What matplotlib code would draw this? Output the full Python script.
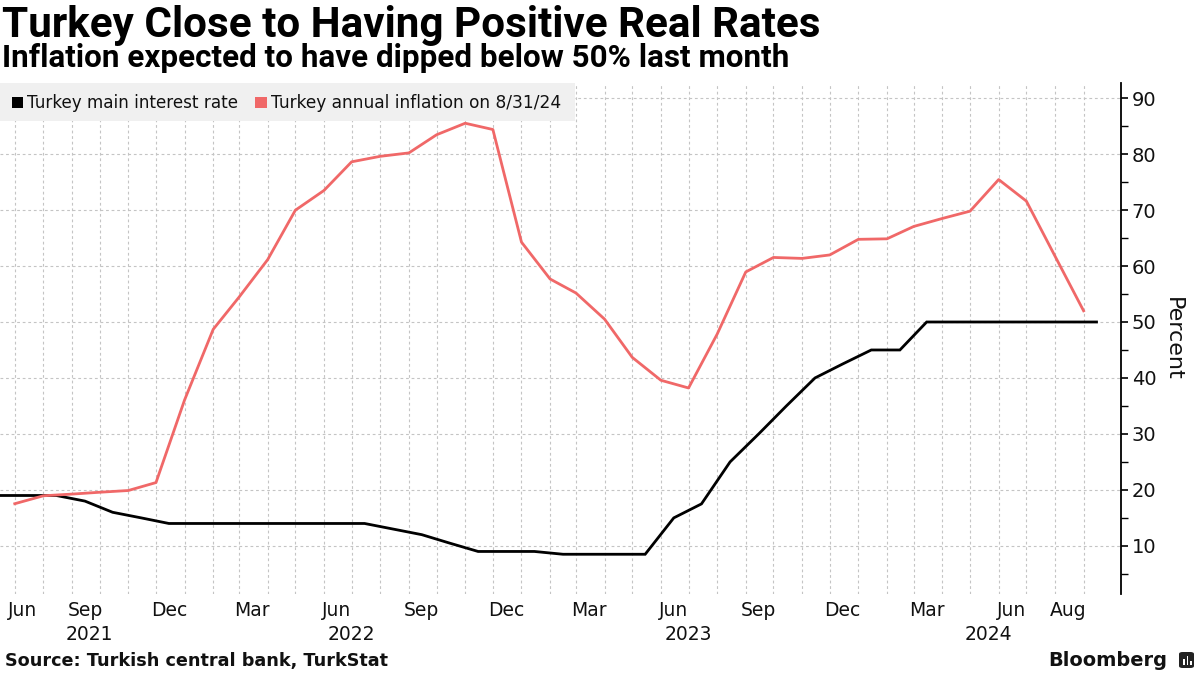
import numpy as np
import pandas as pd
import matplotlib
matplotlib.use("Agg")
import matplotlib.pyplot as plt
import matplotlib.dates as mdates
import matplotlib.font_manager as fm
import matplotlib.transforms as mtrans
from matplotlib.patches import Rectangle, FancyBboxPatch
from matplotlib.ticker import FixedLocator, MultipleLocator

# ---------------- data ----------------
infl_start, infl_end = "2021-06", "2024-08"
inflation = [17.53, 18.95, 19.25, 19.58, 19.89, 21.31, 36.08, 48.69, 54.44, 61.14,
             69.97, 73.50, 78.62, 79.60, 80.21, 83.45, 85.51, 84.39, 64.27, 57.68,
             55.18, 50.51, 43.68, 39.59, 38.21, 47.83, 58.94, 61.53, 61.36, 61.98,
             64.77, 64.86, 67.07, 68.50, 69.80, 75.45, 71.60, 61.78, 52.0]

rate_start, rate_end = "2021-06", "2024-09"
policy_rate = [19, 19, 19, 18, 16, 15, 14, 14, 14, 14, 14, 14, 14, 14, 13, 12, 10.5, 9, 9, 9,
               8.5, 8.5, 8.5, 8.5, 15, 17.5, 25, 30, 35, 40, 42.5, 45, 45, 50, 50, 50, 50, 50, 50, 50]

month_tick_months = ["2021-06", "2021-09", "2021-12", "2022-03", "2022-06", "2022-09", "2022-12",
                     "2023-03", "2023-06", "2023-09", "2023-12", "2024-03", "2024-06", "2024-08"]
month_tick_labels = ["Jun", "Sep", "Dec", "Mar", "Jun", "Sep", "Dec",
                     "Mar", "Jun", "Sep", "Dec", "Mar", "Jun", "Aug"]
year_labels = ["2021", "2022", "2023", "2024"]
year_label_dates = ["2021-09-20", "2022-07-01", "2023-07-01", "2024-05-21"]

y_major = [10, 20, 30, 40, 50, 60, 70, 80, 90]

title = "Turkey Close to Having Positive Real Rates"
subtitle = "Inflation expected to have dipped below 50% last month"
legend_labels = ["Turkey main interest rate", "Turkey annual inflation on 8/31/24"]
source = "Source: Turkish central bank, TurkStat"

RED = "#f06868"
BLACK = "#000000"

# ---------------- fonts ----------------
names = {f.name for f in fm.fontManager.ttflist}
def pick(*cands):
    for c in cands:
        if c in names:
            return c
    return "DejaVu Sans"
title_font = pick("Roboto", "Lato", "Liberation Sans")
reg_font = "DejaVu Sans"
plt.rcParams["font.family"] = reg_font

# ---------------- positions from periods ----------------
infl_x = pd.period_range(infl_start, infl_end, freq="M").to_timestamp(how="end").normalize() + pd.Timedelta(days=1)
rate_x = pd.period_range(rate_start, rate_end, freq="M").to_timestamp(how="start") + pd.Timedelta(days=14)
tick_x = pd.PeriodIndex(month_tick_months, freq="M").to_timestamp(how="start") + pd.Timedelta(days=14)
grid_x = infl_x

W, H = 1200, 675
fig = plt.figure(figsize=(W / 100, H / 100), dpi=100)
fig.patch.set_facecolor("white")

ax_left, ax_right, ax_top, ax_bottom = 0, 1120.5, 83, 594
ax = fig.add_axes([ax_left / W, 1 - ax_bottom / H, (ax_right - ax_left) / W, (ax_bottom - ax_top) / H])

ax.plot(rate_x, policy_rate, color=BLACK, lw=2.0, solid_joinstyle="miter", zorder=3, clip_on=False)
ax.plot(infl_x, inflation, color=RED, lw=2.0, zorder=3)

ax.set_xlim(pd.Timestamp("2021-06-15"), pd.Timestamp("2024-10-11"))
ax.set_ylim(1.4, 92.7)

for s in ["left", "top", "bottom"]:
    ax.spines[s].set_visible(False)
ax.spines["right"].set_linewidth(1.3)
ax.spines["right"].set_color("black")

# y axis on right
ax.yaxis.tick_right()
ax.yaxis.set_major_locator(FixedLocator(y_major))
ax.yaxis.set_minor_locator(MultipleLocator(5))
ax.tick_params(axis="y", which="major", length=5, width=1.2, direction="out", pad=3,
               labelsize=14, labelcolor="#111111", colors="black")
ax.tick_params(axis="y", which="minor", length=5, width=1.0, direction="out", colors="black")
ax.set_yticklabels([str(v) for v in y_major])

# x axis
ax.xaxis.set_major_locator(FixedLocator(mdates.date2num(tick_x)))
ax.set_xticklabels(month_tick_labels)
ax.xaxis.set_minor_locator(FixedLocator(mdates.date2num(grid_x)))
ax.tick_params(axis="x", which="both", length=0, pad=5, labelsize=13.5, labelcolor="#111111")
first = ax.get_xticklabels()[0]
first.set_horizontalalignment("left")
first.set_transform(first.get_transform() + mtrans.ScaledTranslation(8 / 100, 0, fig.dpi_scale_trans))

# grid
ax.grid(False)
ax.grid(True, which="minor", axis="x", color="#c4c4c4", lw=0.8, ls=(0, (2.5, 2.5)))
ax.grid(True, which="major", axis="y", color="#c4c4c4", lw=0.8, ls=(0, (2.5, 2.5)))
ax.set_axisbelow(True)

# year labels
for lab, d in zip(year_labels, year_label_dates):
    ax.annotate(lab, xy=(mdates.date2num(pd.Timestamp(d)), 0), xycoords=("data", "axes fraction"),
                xytext=(0, -40 * 0.72), textcoords="offset points", ha="center", va="center",
                fontsize=13.5, color="#111111")

# y label
ax.set_ylabel("Percent", rotation=-90, fontsize=16, color="#111111", va="center", ha="center")
ax.yaxis.set_label_position("right")
ax.yaxis.set_label_coords((1183 - ax_left) / (ax_right - ax_left), 0.5)

# ---------------- text helpers ----------------
def px(x, y):
    return x / W, 1 - y / H

renderer = fig.canvas.get_renderer()
def fit(t, target):
    w = t.get_window_extent(renderer).width
    t.set_fontsize(t.get_fontsize() * target / w)

t = fig.text(*px(2, 37), title, fontsize=26, fontweight="bold", family=title_font, ha="left", va="baseline")
fit(t, 820)
t = fig.text(*px(2, 67), subtitle, fontsize=18, fontweight="bold", family=title_font, ha="left", va="baseline")
fit(t, 786)

# legend box
fig.patches.append(Rectangle(px(0, 121), 575 / W, 38 / H, transform=fig.transFigure,
                             facecolor="#f0f0f0", edgecolor="none", zorder=5))
fig.patches.append(Rectangle(px(11.5, 108), 11 / W, 11 / H, transform=fig.transFigure,
                             facecolor=BLACK, edgecolor="none", zorder=6))
t = fig.text(*px(27, 102.5), legend_labels[0], fontsize=12, ha="left", va="center", color="#111111", zorder=7)
fit(t, 211)
fig.patches.append(Rectangle(px(255, 108), 12 / W, 11 / H, transform=fig.transFigure,
                             facecolor=RED, edgecolor="none", zorder=6))
t = fig.text(*px(271, 102.5), legend_labels[1], fontsize=12, ha="left", va="center", color="#111111", zorder=7)
fit(t, 289)

# source
t = fig.text(*px(5, 661), source, fontsize=12, fontweight="bold", ha="left", va="center", color="#111111")
fit(t, 380)

# Bloomberg logo
t = fig.text(*px(1167, 661), "Bloomberg", fontsize=15, fontweight="bold", ha="right", va="center", color="#111111")
fit(t, 119)
fig.patches.append(FancyBboxPatch(px(1179, 668), 15 / W, 16 / H, boxstyle="round,pad=0,rounding_size=0.003",
                                  transform=fig.transFigure, facecolor="#222222", edgecolor="none"))
for bx, bh in [(1183, 6), (1186.5, 9), (1190, 4)]:
    fig.patches.append(Rectangle(px(bx, 665), 1.6 / W, bh / H, transform=fig.transFigure,
                                 facecolor="white", edgecolor="none", zorder=6))

fig.savefig("out.png", dpi=100)
